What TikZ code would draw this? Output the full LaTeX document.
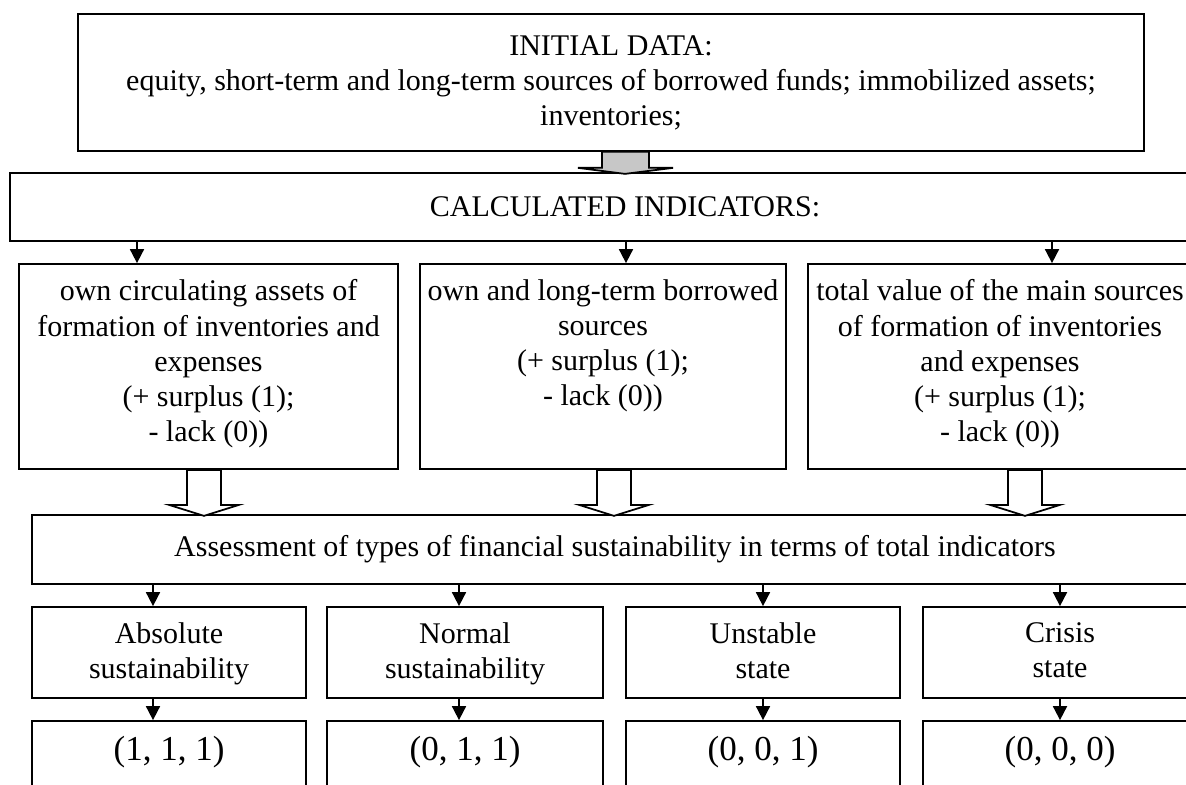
\documentclass[tikz,border=0pt]{standalone}
\usepackage{fontspec}
\setmainfont{Liberation Serif}
\usetikzlibrary{arrows.meta,calc,fit,positioning}

\tikzset{
  box/.style={draw, line width=0.7pt, inner sep=0pt},
  txt/.style={align=center, inner sep=0pt, font=\fontsize{12}{14}\selectfont},
  res/.style={inner sep=0pt, font=\fontsize{14}{16}\selectfont},
  arr/.style={line width=0.7pt, -{Triangle[length=5.6pt,width=5.6pt]}},
  hollow/.style={draw, line width=0.7pt, fill=white},
}

\begin{document}
\begin{tikzpicture}[x=0.4pt, y=-0.4pt]

  \useasboundingbox (0,0) rectangle (1186,785);
  \clip (0,0) rectangle (1186,785);

  % top boxes
  \node[box, fit={(78,14) (1144,151)}] (init) {};
  \node[txt] (initt) at (init.center) {INITIAL DATA:\\ equity, short-term and long-term sources of borrowed funds; immobilized assets;\\ inventories;};
  \node[box, fit={(10,173) (1240,241)}] (calc) {};
  \node[txt] (calct) at (calc.center) {CALCULATED INDICATORS:};

  % indicators
  \node[box, fit={(19,264) (398,469)}] (own) {};
  \node[box, fit={(420,264) (786,469)}] (olb) {};
  \node[box, fit={(808,264) (1192,469)}] (tot) {};
  \node[txt, below=6.5pt of own.north] (ownt) {own circulating assets of\\ formation of inventories and\\ expenses\\ (+ surplus (1);\\ - lack (0))};
  \node[txt, below=6.5pt of olb.north] (olbt) {own and long-term borrowed\\ sources\\ (+ surplus (1);\\ - lack (0))};
  \node[txt, below=6.5pt of tot.north] (tott) {total value of the main sources\\ of formation of inventories\\ and expenses\\ (+ surplus (1);\\ - lack (0))};

  \node[box, fit={(32,515) (1198,584)}] (assess) {};
  \node[txt] (assesst) at (assess.center) {Assessment of types of financial sustainability in terms of total indicators};

  % types
  \node[box, fit={(32,607) (306,698)}] (abs) {};
  \node[box, fit={(327,607) (603,698)}] (norm) {};
  \node[box, fit={(626,607) (900,698)}] (unst) {};
  \node[box, fit={(923,607) (1197,698)}] (cris) {};
  \node[txt, below=6.5pt of abs.north] (abst) {Absolute\\ sustainability};
  \node[txt, below=6.5pt of norm.north] (normt) {Normal\\ sustainability};
  \node[txt, below=6.5pt of unst.north] (unstt) {Unstable\\ state};
  \node[txt, below=6.5pt of cris.north] (crist) {Crisis\\ state};

  \node[box, fit={(32,721) (306,800)}] (r1) {};
  \node[box, fit={(327,721) (603,800)}] (r2) {};
  \node[box, fit={(626,721) (900,800)}] (r3) {};
  \node[box, fit={(923,721) (1197,800)}] (r4) {};
  \node[res] (r1t) at ($(r1.north)+(0,32)$) {(1, 1, 1)};
  \node[res] (r2t) at ($(r2.north)+(0,32)$) {(0, 1, 1)};
  \node[res] (r3t) at ($(r3.north)+(0,32)$) {(0, 0, 1)};
  \node[res] (r4t) at ($(r4.north)+(0,32)$) {(0, 0, 0)};

  % block arrows
  \draw[line width=0.7pt, fill=black!22] ([xshift=-3.6pt]init.south) -- ++(0,16) -- ++(-24,0) -- ++(47,6) -- ++(48,-6) -- ++(-24,0) -- ++(0,-16) -- cycle;
  \draw[hollow] ([xshift=-8.6pt]own.south) -- ++(0,35) -- ++(-18,0) -- ++(35,11) -- ++(35,-11) -- ++(-18,0) -- ++(0,-35) -- cycle;
  \draw[hollow] ([xshift=-2.4pt]olb.south) -- ++(0,35) -- ++(-18,0) -- ++(35,11) -- ++(35,-11) -- ++(-18,0) -- ++(0,-35) -- cycle;
  \draw[hollow] ([xshift=3.2pt]tot.south) -- ++(0,35) -- ++(-18,0) -- ++(35,11) -- ++(35,-11) -- ++(-18,0) -- ++(0,-35) -- cycle;

  % small arrows
  \coordinate (a1) at ([xshift=-28.6pt]own.north);
  \coordinate (a2) at ([xshift=9.2pt]olb.north);
  \coordinate (a3) at ([xshift=20.8pt]tot.north);
  \draw[arr] (a1 |- calc.south) -- (a1);
  \draw[arr] (a2 |- calc.south) -- (a2);
  \draw[arr] (a3 |- calc.south) -- (a3);

  \coordinate (b1) at ([xshift=-6.4pt]abs.north);
  \coordinate (b2) at ([xshift=-2.4pt]norm.north);
  \coordinate (b3) at (unst.north);
  \coordinate (b4) at (cris.north);
  \draw[arr] (b1 |- assess.south) -- (b1);
  \draw[arr] (b2 |- assess.south) -- (b2);
  \draw[arr] (b3 |- assess.south) -- (b3);
  \draw[arr] (b4 |- assess.south) -- (b4);

  \coordinate (c1) at ([xshift=-6.4pt]r1.north);
  \coordinate (c2) at ([xshift=-2.4pt]r2.north);
  \coordinate (c3) at (r3.north);
  \coordinate (c4) at (r4.north);
  \draw[arr] (c1 |- abs.south) -- (c1);
  \draw[arr] (c2 |- norm.south) -- (c2);
  \draw[arr] (c3 |- unst.south) -- (c3);
  \draw[arr] (c4 |- cris.south) -- (c4);

\end{tikzpicture}
\end{document}
